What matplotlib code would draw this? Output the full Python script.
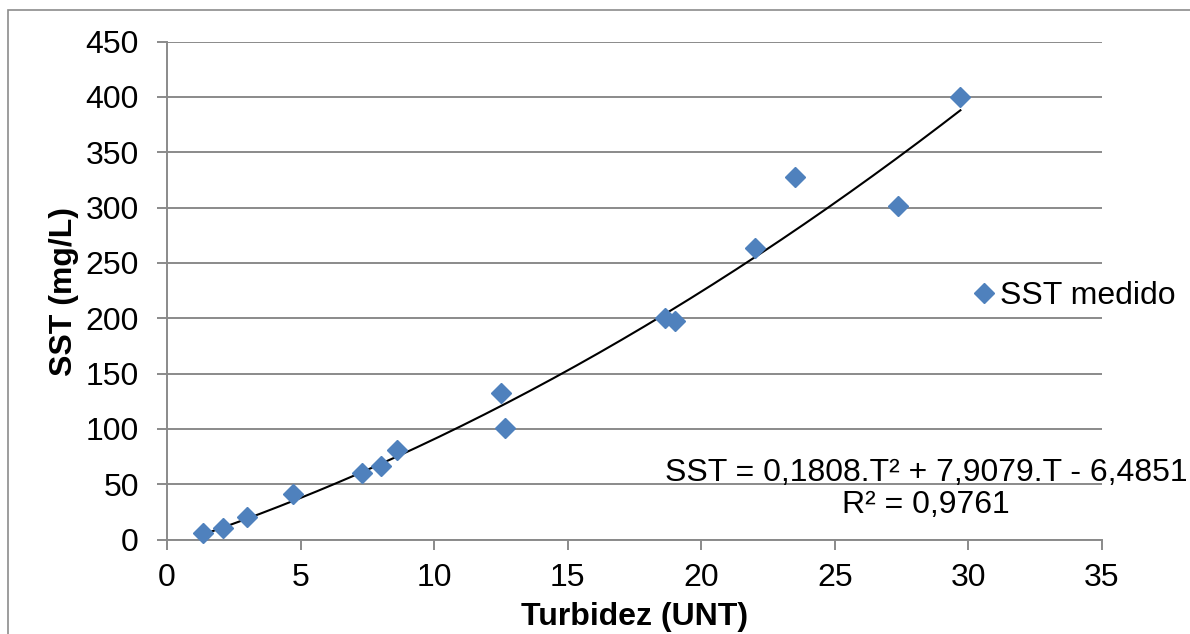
import numpy as np
import matplotlib
matplotlib.use("Agg")
import matplotlib.pyplot as plt
from matplotlib.patches import Rectangle

plt.rcParams['font.family'] = ['Liberation Sans', 'DejaVu Sans']

# Data
turbidez = [1.35, 2.1, 3.0, 4.7, 7.3, 8.0, 8.6, 12.5, 12.65, 18.65, 19.0, 22.0, 23.5, 27.35, 29.7]
sst = [5.5, 10.5, 20.5, 41, 60.5, 66, 81, 132, 101, 200, 197, 263, 328, 301, 400]
trend_coef = [0.1808, 7.9079, -6.4851]
x_ticks = [0, 5, 10, 15, 20, 25, 30, 35]
y_ticks = [0, 50, 100, 150, 200, 250, 300, 350, 400, 450]
series_label = "SST medido"
eq_text = "SST = 0,1808.T² + 7,9079.T - 6,4851\nR² = 0,9761"
x_label = "Turbidez (UNT)"
y_label = "SST (mg/L)"

W, H = 1190, 634
FS = 23
fig = plt.figure(figsize=(W / 100, H / 100), dpi=100)
fig.patch.set_facecolor('white')

# outer chart border (extends beyond image at right/bottom)
fig.patches.append(Rectangle((8 / W, -0.1), 1.2, 1 - 10 / H + 0.1, transform=fig.transFigure,
                             fill=False, edgecolor='#8c8c8c', linewidth=1.2, zorder=0))

left, right, top, bottom = 167, 1102, 41.5, 539.5
ax = fig.add_axes([left / W, 1 - bottom / H, (right - left) / W, (bottom - top) / H])

grid_c = '#8a8a8a'
ax.set_xlim(0, 35)
ax.set_ylim(0, 450)
ax.set_xticks(x_ticks)
ax.set_yticks(y_ticks)
ax.yaxis.grid(True, color=grid_c, linewidth=1.4)
ax.set_axisbelow(True)
for s in ['top', 'right']:
    ax.spines[s].set_visible(False)
for s in ['left', 'bottom']:
    ax.spines[s].set_color(grid_c)
    ax.spines[s].set_linewidth(1.4)
ax.tick_params(axis='both', direction='out', length=7.2, width=1.4, color=grid_c,
               labelsize=FS, labelcolor='black')
ax.tick_params(axis='y', pad=13)
ax.tick_params(axis='x', pad=10)

# Trendline
xt = np.linspace(min(turbidez), max(turbidez), 200)
ax.plot(xt, np.polyval(trend_coef, xt), color='black', linewidth=1.5, zorder=2)

# Scatter
ax.plot(turbidez, sst, linestyle='none', marker='D', markersize=10, color='#4F81BD',
        markeredgecolor='#4F81BD', label=series_label, zorder=3, clip_on=False)

# Legend
leg = ax.legend(loc='center left', bbox_to_anchor=(974 / W, 1 - 296 / H), bbox_transform=fig.transFigure,
                frameon=False, fontsize=FS, handlelength=0.6, handletextpad=0.22, borderpad=0,
                borderaxespad=0)

# Equation text
fig.text(926 / W, 1 - 489 / H, eq_text, ha='center', va='center', fontsize=FS,
         multialignment='center', linespacing=1.12)

# Axis labels
fig.text(64 / W, 1 - 291 / H, y_label, rotation=90, ha='center', va='center',
         fontsize=FS, fontweight='bold')
fig.text(635 / W, (H - 625) / H, x_label, ha='center', va='baseline',
         fontsize=FS, fontweight='bold')

fig.savefig('out.png', dpi=100)
